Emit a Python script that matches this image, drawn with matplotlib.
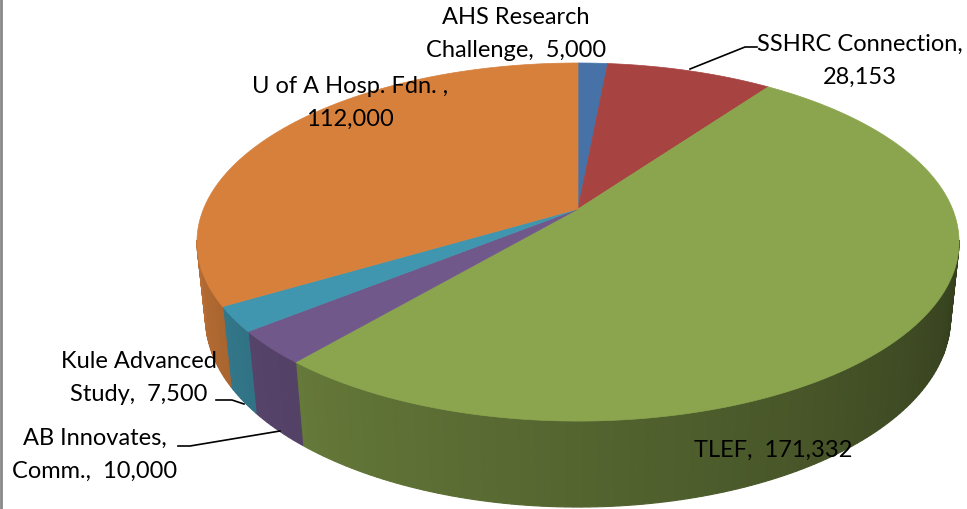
import matplotlib
matplotlib.use("Agg")
import matplotlib.pyplot as plt
from matplotlib.patches import Polygon
import numpy as np

# Daten
labels = ["AHS Research\nChallenge,  5,000", "SSHRC Connection,\n28,153", "TLEF,  171,332",
          "AB Innovates,\nComm.,  10,000", "Kule Advanced\nStudy,  7,500", "U of A Hosp. Fdn. ,\n112,000"]
values = [5000, 28153, 171332, 10000, 7500, 112000]
top_colors = ["#4672A8", "#A74341", "#8AA54E", "#71588B", "#4096AE", "#D7803C"]

# Perspektive (Pixel)
cx, cy = 578, 210
sin_a, cos_a = 0.4618, 0.887
D = 4.808
F = 1800.6
h = 0.231

def proj(theta, z):
    X = np.sin(theta)
    Y = np.cos(theta)
    depth = D + Y * cos_a - z * sin_a
    sx = cx + F * X / depth
    sy = cy - F * (Y * sin_a + z * cos_a) / depth
    return sx, sy

def shade(color, f):
    rgb = np.array(matplotlib.colors.to_rgb(color))
    return tuple(np.clip(rgb * f, 0, 1))

fig = plt.figure(figsize=(9.67, 5.10), dpi=100)
ax = fig.add_axes([0, 0, 1, 1])
ax.set_xlim(0, 967)
ax.set_ylim(510, 0)
ax.axis("off")

total = sum(values)
ends = np.cumsum(values) / total * 2 * np.pi
starts = np.concatenate([[0], ends[:-1]])

vis_lo = np.deg2rad(100)
vis_hi = np.deg2rad(260)

# Seitenwand, Verlauf hell links -> dunkel rechts
for s, e, c in zip(starts, ends, top_colors):
    a0 = max(s, vis_lo)
    a1 = min(e, vis_hi)
    if a1 <= a0:
        continue
    n = max(2, int(np.rad2deg(a1 - a0)) + 1)
    th = np.linspace(a0, a1, n + 1)
    for t0, t1 in zip(th[:-1], th[1:]):
        tm = (t0 + t1) / 2
        f = 0.38 + 0.46 * (np.rad2deg(tm) - 104) / 152
        x0t, y0t = proj(t0, 0)
        x1t, y1t = proj(t1, 0)
        x0b, y0b = proj(t0, -h)
        x1b, y1b = proj(t1, -h)
        col = shade(c, f)
        ax.add_patch(Polygon([(x0t, y0t), (x1t, y1t), (x1b, y1b), (x0b, y0b)],
                             closed=True, facecolor=col, edgecolor=col, lw=0.8))

# Deckflaeche
for s, e, c in zip(starts, ends, top_colors):
    th = np.linspace(s, e, max(3, int(np.rad2deg(e - s) * 2)))
    pts = [(cx, cy)] + [proj(t, 0) for t in th]
    ax.add_patch(Polygon(pts, closed=True, facecolor=c, edgecolor=c, lw=0.5))

# Beschriftungen
font = dict(family="Lato", fontsize=17, color="black", linespacing=1.72)
label_pos = [(516, 34), (860, 61), (773, 450), (95, 455), (139, 378), (350, 103)]
for txt, (x, y) in zip(labels, label_pos):
    ax.text(x, y, txt, ha="center", va="center", multialignment="center", **font)

# Fuehrungslinien
ax.plot([690, 745, 757], [70, 48, 48], color="black", lw=1.2)
ax.plot([216, 232, 244], [401, 401, 405], color="black", lw=1.2)
ax.plot([178, 190, 280], [447, 447, 432], color="black", lw=1.2)

# Rahmen links
ax.plot([1, 1], [0, 510], color="#888888", lw=2)

plt.savefig("out.png", dpi=100)
